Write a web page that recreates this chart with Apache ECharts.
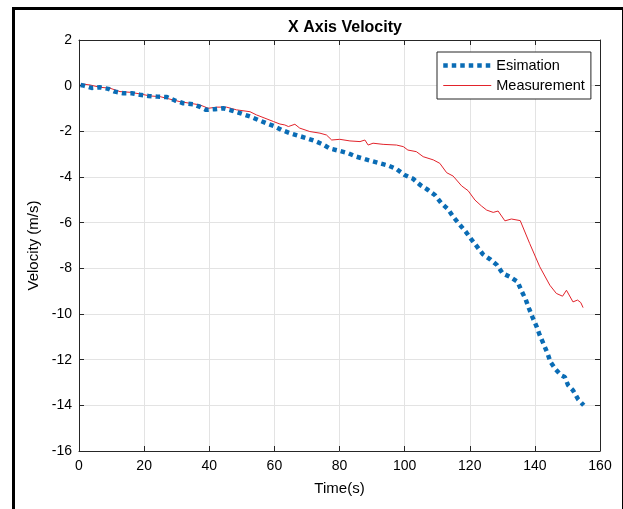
<!DOCTYPE html>
<html>
<head>
<meta charset="utf-8">
<script src="https://cdn.jsdelivr.net/npm/echarts@6/dist/echarts.min.js"></script>
<style>
  html, body { margin: 0; padding: 0; background: #fff; }
  #chart { width: 623px; height: 509px; }
</style>
</head>
<body>
<div id="chart"></div>
<script>
// values
var xTicks = [0, 20, 40, 60, 80, 100, 120, 140, 160];
var yTicks = [-16, -14, -12, -10, -8, -6, -4, -2, 0, 2];

var estTime = [0.5, 1.5, 3.9, 6.4, 9, 11, 13.6, 16.2, 18.7, 21.3, 24, 27, 29.5, 32, 35, 37, 39, 41.7, 44.3, 46.9,
    49.4, 52.5, 55, 57.6, 60.2, 62.2, 64.8, 67.3, 69.9, 72.4, 75, 77, 80.1, 82.7, 85.2, 87.8, 89.9, 92.4, 95, 97.5,
    100, 102.6, 104.8, 107.2, 109.3, 111.3, 113.4, 114.9, 117, 118.8, 120.5, 122.3, 124, 126.4, 128.4, 130.1, 132.3,
    134.7, 135.9, 137.2, 138.2, 139.3, 140.5, 141.5, 142.7, 143.9, 144.8, 146.4, 148, 149.2, 150.2, 151.7, 153.3, 155];
var estVel = [0.03, 0, -0.1, -0.07, -0.14, -0.26, -0.33, -0.33, -0.4, -0.45, -0.48, -0.5, -0.65, -0.77, -0.81, -0.92, -1.06, -1.03, -0.99, -1.09,
    -1.2, -1.35, -1.5, -1.65, -1.79, -1.94, -2.08, -2.19, -2.3, -2.42, -2.58, -2.75, -2.86, -2.96, -3.11, -3.22, -3.3, -3.4, -3.5, -3.65,
    -3.91, -4.08, -4.35, -4.57, -4.79, -5.15, -5.42, -5.74, -6.1, -6.4, -6.73, -7.06, -7.38, -7.62, -7.86, -8.22, -8.37,
    -8.59, -8.99, -9.37, -9.76, -10.15, -10.54, -10.93, -11.32, -11.73, -12.1, -12.43, -12.68, -12.76, -13.12, -13.34, -13.74, -14];

var measTime = [0.5, 1.3, 3.4, 6.4, 9.5, 12.6, 15.7, 18.7, 21.8, 24.9, 27.9, 31, 34, 37.1, 39.7, 42.3, 45.3, 48.4, 52.5, 54.5,
    59.7, 61.7, 63.2, 64.3, 66.3, 67.8, 70.9, 74, 76, 77.6, 80.1, 83.2, 86.3, 87.8, 88.8, 90.3, 93.4, 97.5, 99.6, 101,
    103.6, 105.7, 108.8, 110.8, 112.9, 114.9, 117.5, 119.5, 121.6, 123.6, 125.2, 127.2, 128.7, 130.8, 132.8, 135.5,
    138.4, 141.5, 144.6, 146.6, 148.5, 149.7, 151.7, 153.1, 154.1, 154.8];
var measVel = [0.05, 0.07, 0.03, -0.07, -0.11, -0.26, -0.29, -0.36, -0.45, -0.48, -0.59, -0.7, -0.77, -0.84, -0.99, -0.94, -0.94, -1.06, -1.14, -1.28,
    -1.57, -1.68, -1.72, -1.79, -1.69, -1.86, -2.01, -2.08, -2.16, -2.38, -2.35, -2.42, -2.45, -2.38, -2.6, -2.52, -2.57, -2.6, -2.67, -2.82,
    -2.89, -3.11, -3.25, -3.4, -3.81, -3.96, -4.39, -4.6, -5.01, -5.27, -5.45, -5.55, -5.49, -5.92, -5.84, -5.91,
    -6.91, -7.93, -8.74, -9.1, -9.22, -8.96, -9.47, -9.39, -9.5, -9.72];

function pairs(xs, ys) {
    var out = [];
    for (var i = 0; i < xs.length; i++) out.push([xs[i], ys[i]]);
    return out;
}

var dom = document.getElementById('chart');
var myChart = echarts.init(dom, null, {renderer: 'canvas'});

var axisColor = '#262626';
var gridColor = '#e3e3e3';
var font = 'Liberation Sans, Arial, sans-serif';
var estColor = '#0a6cb5';
var measColor = '#e2232b';
var estDash = {color: estColor, width: 4.5, type: [4.5, 4]};

var baseX = {
    type: 'value', min: xTicks[0], max: xTicks[xTicks.length - 1], interval: 20,
    axisLine: {show: true, onZero: false, lineStyle: {color: axisColor, width: 1}},
    axisTick: {show: true, inside: true, length: 5, lineStyle: {color: axisColor}},
    splitLine: {show: false}
};
var baseY = {
    type: 'value', min: yTicks[0], max: yTicks[yTicks.length - 1], interval: 2,
    axisLine: {show: true, onZero: false, lineStyle: {color: axisColor, width: 1}},
    axisTick: {show: true, inside: true, length: 5, lineStyle: {color: axisColor}},
    splitLine: {show: false}
};

var option = {
    backgroundColor: '#fff',
    animation: false,
    title: {
        text: 'X Axis Velocity',
        left: 340, top: 15, textAlign: 'center',
        textStyle: {fontFamily: font, fontSize: 16, fontWeight: 'bold', color: '#000'}
    },
    legend: {
        orient: 'vertical',
        left: 437, top: 52,
        padding: [6, 6, 6, 4],
        itemGap: 5,
        itemWidth: 48, itemHeight: 14,
        backgroundColor: '#fff',
        borderColor: axisColor, borderWidth: 1, borderRadius: 0,
        itemStyle: {opacity: 0},
        textStyle: {fontFamily: font, fontSize: 14.5, color: '#000'},
        data: [
            {name: 'Esimation', lineStyle: estDash},
            {name: 'Measurement', lineStyle: {color: measColor, width: 1}}
        ]
    },
    grid: {left: 79, right: 23, top: 40, bottom: 58, containLabel: false},
    xAxis: [
        Object.assign({}, baseX, {
            position: 'bottom',
            name: 'Time(s)', nameLocation: 'middle', nameGap: 30,
            nameTextStyle: {fontFamily: font, fontSize: 15, color: '#000'},
            axisLabel: {margin: 8, fontFamily: font, fontSize: 14, color: '#000'},
            splitLine: {show: true, lineStyle: {color: gridColor, width: 1}}
        }),
        Object.assign({}, baseX, {position: 'top', axisLabel: {show: false}})
    ],
    yAxis: [
        Object.assign({}, baseY, {
            position: 'left',
            name: 'Velocity (m/s)', nameLocation: 'middle', nameGap: 38,
            nameTextStyle: {fontFamily: font, fontSize: 15, color: '#000'},
            axisLabel: {margin: 7, fontFamily: font, fontSize: 14, color: '#000'},
            splitLine: {show: true, lineStyle: {color: gridColor, width: 1}}
        }),
        Object.assign({}, baseY, {position: 'right', axisLabel: {show: false}})
    ],
    graphic: [{
        type: 'rect', left: 11, top: 6, z: 100, silent: true,
        shape: {width: 610, height: 520},
        style: {fill: 'none', stroke: '#000', lineWidth: 3}
    }],
    series: [
        {
            name: 'Measurement', type: 'line', symbol: 'none', z: 2,
            data: pairs(measTime, measVel),
            lineStyle: {color: measColor, width: 1},
            itemStyle: {color: measColor}
        },
        {
            name: 'Esimation', type: 'line', symbol: 'none', z: 3,
            data: pairs(estTime, estVel),
            lineStyle: estDash,
            itemStyle: {color: estColor}
        }
    ]
};

if (option && typeof option === "object") {
    myChart.setOption(option, true);
}
</script>
</body>
</html>
